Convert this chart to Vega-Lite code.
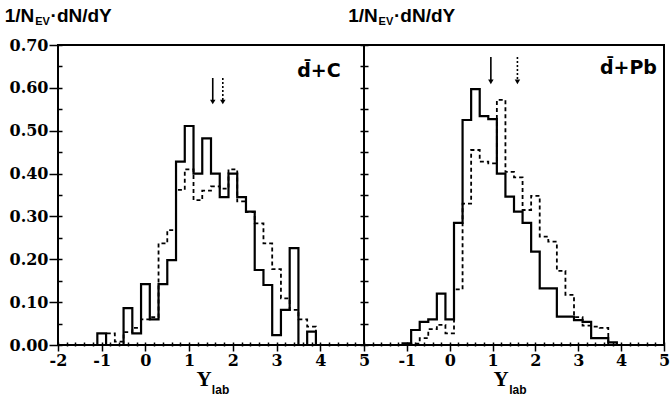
{
  "$schema": "https://vega.github.io/schema/vega-lite/v6.json",
  "autosize": {"type": "pad"},
  "padding": {"left": 3, "top": 5, "right": 0, "bottom": 0},
  "background": "white",
  "spacing": 0,
  "bounds": "flush",
  "config": {
    "view": {"stroke": "black", "strokeWidth": 2},
    "axis": {"grid": false, "domain": false, "ticks": true, "tickColor": "black", "tickWidth": 1.5, "labelColor": "black", "labelFont": "DejaVu Serif", "labelFontWeight": "bold", "labelFontSize": 16, "labelOverlap": false, "labelFlush": false, "title": null}
  },
  "datasets": {
    "leftSolid": [
      {"y_lab": -1.3, "dndy": 0}, {"y_lab": -1.1, "dndy": 0.027}, {"y_lab": -0.9, "dndy": 0}, {"y_lab": -0.7, "dndy": 0},
      {"y_lab": -0.5, "dndy": 0.086}, {"y_lab": -0.3, "dndy": 0.027}, {"y_lab": -0.1, "dndy": 0.142}, {"y_lab": 0.1, "dndy": 0.06},
      {"y_lab": 0.3, "dndy": 0.142}, {"y_lab": 0.5, "dndy": 0.198}, {"y_lab": 0.7, "dndy": 0.428}, {"y_lab": 0.9, "dndy": 0.511},
      {"y_lab": 1.1, "dndy": 0.4}, {"y_lab": 1.3, "dndy": 0.482}, {"y_lab": 1.5, "dndy": 0.4}, {"y_lab": 1.7, "dndy": 0.345},
      {"y_lab": 1.9, "dndy": 0.4}, {"y_lab": 2.1, "dndy": 0.345}, {"y_lab": 2.3, "dndy": 0.311}, {"y_lab": 2.5, "dndy": 0.175},
      {"y_lab": 2.7, "dndy": 0.14}, {"y_lab": 2.9, "dndy": 0.023}, {"y_lab": 3.1, "dndy": 0.082}, {"y_lab": 3.3, "dndy": 0.226},
      {"y_lab": 3.5, "dndy": 0}, {"y_lab": 3.7, "dndy": 0.031}, {"y_lab": 3.9, "dndy": 0}
    ],
    "leftDashed": [
      {"y_lab": -1.1, "dndy": 0}, {"y_lab": -0.9, "dndy": 0.027}, {"y_lab": -0.7, "dndy": 0.008}, {"y_lab": -0.5, "dndy": 0.03},
      {"y_lab": -0.3, "dndy": 0.04}, {"y_lab": -0.1, "dndy": 0.06}, {"y_lab": 0.1, "dndy": 0.065}, {"y_lab": 0.3, "dndy": 0.237},
      {"y_lab": 0.5, "dndy": 0.268}, {"y_lab": 0.7, "dndy": 0.362}, {"y_lab": 0.9, "dndy": 0.41}, {"y_lab": 1.1, "dndy": 0.338},
      {"y_lab": 1.3, "dndy": 0.36}, {"y_lab": 1.5, "dndy": 0.37}, {"y_lab": 1.7, "dndy": 0.365}, {"y_lab": 1.9, "dndy": 0.41},
      {"y_lab": 2.1, "dndy": 0.335}, {"y_lab": 2.3, "dndy": 0.31}, {"y_lab": 2.5, "dndy": 0.284}, {"y_lab": 2.7, "dndy": 0.237},
      {"y_lab": 2.9, "dndy": 0.177}, {"y_lab": 3.1, "dndy": 0.109}, {"y_lab": 3.3, "dndy": 0.082}, {"y_lab": 3.5, "dndy": 0.06},
      {"y_lab": 3.7, "dndy": 0.043}, {"y_lab": 3.9, "dndy": 0}
    ],
    "rightSolid": [
      {"y_lab": -1.3, "dndy": 0}, {"y_lab": -1.1, "dndy": 0.004}, {"y_lab": -0.9, "dndy": 0.035}, {"y_lab": -0.7, "dndy": 0.054},
      {"y_lab": -0.5, "dndy": 0.06}, {"y_lab": -0.3, "dndy": 0.12}, {"y_lab": -0.1, "dndy": 0.06}, {"y_lab": 0.1, "dndy": 0.285},
      {"y_lab": 0.3, "dndy": 0.525}, {"y_lab": 0.5, "dndy": 0.597}, {"y_lab": 0.7, "dndy": 0.534}, {"y_lab": 0.9, "dndy": 0.527},
      {"y_lab": 1.1, "dndy": 0.4}, {"y_lab": 1.3, "dndy": 0.346}, {"y_lab": 1.5, "dndy": 0.311}, {"y_lab": 1.7, "dndy": 0.285},
      {"y_lab": 1.9, "dndy": 0.218}, {"y_lab": 2.1, "dndy": 0.132}, {"y_lab": 2.3, "dndy": 0.132}, {"y_lab": 2.5, "dndy": 0.066},
      {"y_lab": 2.7, "dndy": 0.066}, {"y_lab": 2.9, "dndy": 0.058}, {"y_lab": 3.1, "dndy": 0.054}, {"y_lab": 3.3, "dndy": 0.016},
      {"y_lab": 3.5, "dndy": 0.016}, {"y_lab": 3.7, "dndy": 0.006}, {"y_lab": 3.9, "dndy": 0}
    ],
    "rightDashed": [
      {"y_lab": -1.1, "dndy": 0}, {"y_lab": -0.9, "dndy": 0.003}, {"y_lab": -0.7, "dndy": 0.016}, {"y_lab": -0.5, "dndy": 0.037},
      {"y_lab": -0.3, "dndy": 0.047}, {"y_lab": -0.1, "dndy": 0.027}, {"y_lab": 0.1, "dndy": 0.13}, {"y_lab": 0.3, "dndy": 0.33},
      {"y_lab": 0.5, "dndy": 0.455}, {"y_lab": 0.7, "dndy": 0.428}, {"y_lab": 0.9, "dndy": 0.424}, {"y_lab": 1.1, "dndy": 0.572},
      {"y_lab": 1.3, "dndy": 0.404}, {"y_lab": 1.5, "dndy": 0.391}, {"y_lab": 1.7, "dndy": 0.315}, {"y_lab": 1.9, "dndy": 0.348},
      {"y_lab": 2.1, "dndy": 0.253}, {"y_lab": 2.3, "dndy": 0.241}, {"y_lab": 2.5, "dndy": 0.173}, {"y_lab": 2.7, "dndy": 0.117},
      {"y_lab": 2.9, "dndy": 0.065}, {"y_lab": 3.1, "dndy": 0.045}, {"y_lab": 3.3, "dndy": 0.043}, {"y_lab": 3.5, "dndy": 0.04},
      {"y_lab": 3.7, "dndy": 0}
    ],
    "leftArrows": [
      {"y_lab": 1.54, "top": 0.623, "tip": 0.567, "kind": "solid"},
      {"y_lab": 1.77, "top": 0.623, "tip": 0.567, "kind": "dashed"}
    ],
    "rightArrows": [
      {"y_lab": 0.96, "top": 0.672, "tip": 0.614, "kind": "solid"},
      {"y_lab": 1.58, "top": 0.672, "tip": 0.614, "kind": "dashed"}
    ]
  },
  "hconcat": [
    {
      "width": 306,
      "height": 300,
      "resolve": {"scale": {"x": "shared", "y": "shared"}, "axis": {"x": "independent", "y": "independent"}},
      "layer": [
        {
          "data": {"name": "leftDashed"},
          "mark": {"type": "line", "interpolate": "step-after", "color": "black", "strokeWidth": 1.8, "strokeDash": [4, 3]},
          "encoding": {
            "x": {"field": "y_lab", "type": "quantitative", "scale": {"domain": [-2, 5], "nice": false, "zero": false},
              "axis": {"orient": "bottom", "values": [-2, -1, 0, 1, 2, 3, 4, 5], "offset": -3, "tickSize": 9, "labelPadding": 1,
                "labelExpr": "datum.value < 0 ? '-' + abs(datum.value) : '' + datum.value"}},
            "y": {"field": "dndy", "type": "quantitative", "scale": {"domain": [0, 0.7], "nice": false, "zero": false},
              "axis": {"orient": "left", "values": [0, 0.1, 0.2, 0.3, 0.4, 0.5, 0.6, 0.7], "offset": -4, "tickSize": 13, "labelPadding": 1, "format": ".2f"}}
          }
        },
        {
          "data": {"name": "leftSolid"},
          "mark": {"type": "line", "interpolate": "step-after", "color": "black", "strokeWidth": 2.2},
          "encoding": {
            "x": {"field": "y_lab", "type": "quantitative",
              "axis": {"orient": "bottom", "values": [-1.8, -1.6, -1.4, -1.2, -0.8, -0.6, -0.4, -0.2, 0.2, 0.4, 0.6, 0.8, 1.2, 1.4, 1.6, 1.8, 2.2, 2.4, 2.6, 2.8, 3.2, 3.4, 3.6, 3.8, 4.2, 4.4, 4.6, 4.8], "offset": -3, "tickSize": 4, "labels": false}},
            "y": {"field": "dndy", "type": "quantitative",
              "axis": {"orient": "left", "values": [0.05, 0.15, 0.25, 0.35, 0.45, 0.55, 0.65], "offset": -4, "tickSize": 4, "labels": false}}
          }
        },
        {
          "data": {"name": "leftArrows"},
          "mark": {"type": "rule", "color": "black", "strokeWidth": 1.6},
          "encoding": {"x": {"field": "y_lab", "type": "quantitative", "axis": null}, "y": {"field": "top", "type": "quantitative", "axis": null}, "y2": {"field": "tip"},
            "strokeDash": {"field": "kind", "type": "nominal", "scale": {"domain": ["solid", "dashed"], "range": [[1, 0], [2, 2]]}, "legend": null}}
        },
        {
          "data": {"name": "leftArrows"},
          "mark": {"type": "point", "shape": "triangle-down", "filled": true, "color": "black", "size": 30, "opacity": 1},
          "encoding": {"x": {"field": "y_lab", "type": "quantitative", "axis": null}, "y": {"field": "tip", "type": "quantitative", "axis": null}}
        },
        {
          "data": {"values": [{}]},
          "mark": {"type": "text", "text": "d̄+C", "font": "DejaVu Sans", "fontWeight": "bold", "fontSize": 19, "align": "center", "baseline": "middle", "color": "black"},
          "encoding": {"x": {"datum": 3.97, "axis": null}, "y": {"datum": 0.639, "axis": null}}
        },
        {
          "data": {"values": [{}]},
          "mark": {"type": "text", "text": "1/N", "font": "Liberation Sans", "fontWeight": "bold", "fontSize": 19, "align": "left", "baseline": "middle", "color": "black"},
          "encoding": {"x": {"datum": -3.22, "axis": null}, "y": {"datum": 0.768, "axis": null}}
        },
        {
          "data": {"values": [{}]},
          "mark": {"type": "text", "text": "EV", "font": "Liberation Sans", "fontWeight": "bold", "fontSize": 11, "align": "left", "baseline": "middle", "color": "black"},
          "encoding": {"x": {"datum": -2.52, "axis": null}, "y": {"datum": 0.754, "axis": null}}
        },
        {
          "data": {"values": [{}]},
          "mark": {"type": "text", "text": "·dN/dY", "font": "Liberation Sans", "fontWeight": "bold", "fontSize": 19, "align": "left", "baseline": "middle", "color": "black"},
          "encoding": {"x": {"datum": -2.17, "axis": null}, "y": {"datum": 0.768, "axis": null}}
        },
        {
          "data": {"values": [{}]},
          "mark": {"type": "text", "text": "Y", "font": "Liberation Serif", "fontWeight": "bold", "fontSize": 21, "align": "center", "baseline": "middle", "color": "black"},
          "encoding": {"x": {"datum": 1.34, "axis": null}, "y": {"datum": -0.082, "axis": null}}
        },
        {
          "data": {"values": [{}]},
          "mark": {"type": "text", "text": "lab", "font": "Liberation Sans", "fontWeight": "bold", "fontSize": 12, "align": "left", "baseline": "middle", "color": "black"},
          "encoding": {"x": {"datum": 1.52, "axis": null}, "y": {"datum": -0.104, "axis": null}}
        }
      ]
    },
    {
      "width": 300,
      "height": 300,
      "resolve": {"scale": {"x": "shared", "y": "shared"}, "axis": {"x": "independent", "y": "independent"}},
      "layer": [
        {
          "data": {"name": "rightDashed"},
          "mark": {"type": "line", "interpolate": "step-after", "color": "black", "strokeWidth": 1.8, "strokeDash": [4, 3]},
          "encoding": {
            "x": {"field": "y_lab", "type": "quantitative", "scale": {"domain": [-2, 5], "nice": false, "zero": false},
              "axis": {"orient": "bottom", "values": [-1, 0, 1, 2, 3, 4, 5], "offset": -3, "tickSize": 9, "labelPadding": 1,
                "labelExpr": "datum.value < 0 ? '-' + abs(datum.value) : '' + datum.value"}},
            "y": {"field": "dndy", "type": "quantitative", "scale": {"domain": [0, 0.7], "nice": false, "zero": false},
              "axis": {"orient": "left", "values": [0, 0.05, 0.1, 0.15, 0.2, 0.25, 0.3, 0.35, 0.4, 0.45, 0.5, 0.55, 0.6, 0.65, 0.7], "offset": -4, "tickSize": 8, "labels": false}}
          }
        },
        {
          "data": {"name": "rightSolid"},
          "mark": {"type": "line", "interpolate": "step-after", "color": "black", "strokeWidth": 2.2},
          "encoding": {
            "x": {"field": "y_lab", "type": "quantitative",
              "axis": {"orient": "bottom", "values": [-1.8, -1.6, -1.4, -1.2, -0.8, -0.6, -0.4, -0.2, 0.2, 0.4, 0.6, 0.8, 1.2, 1.4, 1.6, 1.8, 2.2, 2.4, 2.6, 2.8, 3.2, 3.4, 3.6, 3.8, 4.2, 4.4, 4.6, 4.8], "offset": -3, "tickSize": 4, "labels": false}},
            "y": {"field": "dndy", "type": "quantitative", "axis": null}
          }
        },
        {
          "data": {"name": "rightArrows"},
          "mark": {"type": "rule", "color": "black", "strokeWidth": 1.6},
          "encoding": {"x": {"field": "y_lab", "type": "quantitative", "axis": null}, "y": {"field": "top", "type": "quantitative", "axis": null}, "y2": {"field": "tip"},
            "strokeDash": {"field": "kind", "type": "nominal", "scale": {"domain": ["solid", "dashed"], "range": [[1, 0], [2, 2]]}, "legend": null}}
        },
        {
          "data": {"name": "rightArrows"},
          "mark": {"type": "point", "shape": "triangle-down", "filled": true, "color": "black", "size": 30, "opacity": 1},
          "encoding": {"x": {"field": "y_lab", "type": "quantitative", "axis": null}, "y": {"field": "tip", "type": "quantitative", "axis": null}}
        },
        {
          "data": {"values": [{}]},
          "mark": {"type": "text", "text": "d̄+Pb", "font": "DejaVu Sans", "fontWeight": "bold", "fontSize": 19, "align": "center", "baseline": "middle", "color": "black"},
          "encoding": {"x": {"datum": 4.17, "axis": null}, "y": {"datum": 0.646, "axis": null}}
        },
        {
          "data": {"values": [{}]},
          "mark": {"type": "text", "text": "1/N", "font": "Liberation Sans", "fontWeight": "bold", "fontSize": 19, "align": "left", "baseline": "middle", "color": "black"},
          "encoding": {"x": {"datum": -2.37, "axis": null}, "y": {"datum": 0.768, "axis": null}}
        },
        {
          "data": {"values": [{}]},
          "mark": {"type": "text", "text": "EV", "font": "Liberation Sans", "fontWeight": "bold", "fontSize": 11, "align": "left", "baseline": "middle", "color": "black"},
          "encoding": {"x": {"datum": -1.66, "axis": null}, "y": {"datum": 0.754, "axis": null}}
        },
        {
          "data": {"values": [{}]},
          "mark": {"type": "text", "text": "·dN/dY", "font": "Liberation Sans", "fontWeight": "bold", "fontSize": 19, "align": "left", "baseline": "middle", "color": "black"},
          "encoding": {"x": {"datum": -1.3, "axis": null}, "y": {"datum": 0.768, "axis": null}}
        },
        {
          "data": {"values": [{}]},
          "mark": {"type": "text", "text": "Y", "font": "Liberation Serif", "fontWeight": "bold", "fontSize": 21, "align": "center", "baseline": "middle", "color": "black"},
          "encoding": {"x": {"datum": 1.2, "axis": null}, "y": {"datum": -0.082, "axis": null}}
        },
        {
          "data": {"values": [{}]},
          "mark": {"type": "text", "text": "lab", "font": "Liberation Sans", "fontWeight": "bold", "fontSize": 12, "align": "left", "baseline": "middle", "color": "black"},
          "encoding": {"x": {"datum": 1.39, "axis": null}, "y": {"datum": -0.104, "axis": null}}
        }
      ]
    }
  ]
}
